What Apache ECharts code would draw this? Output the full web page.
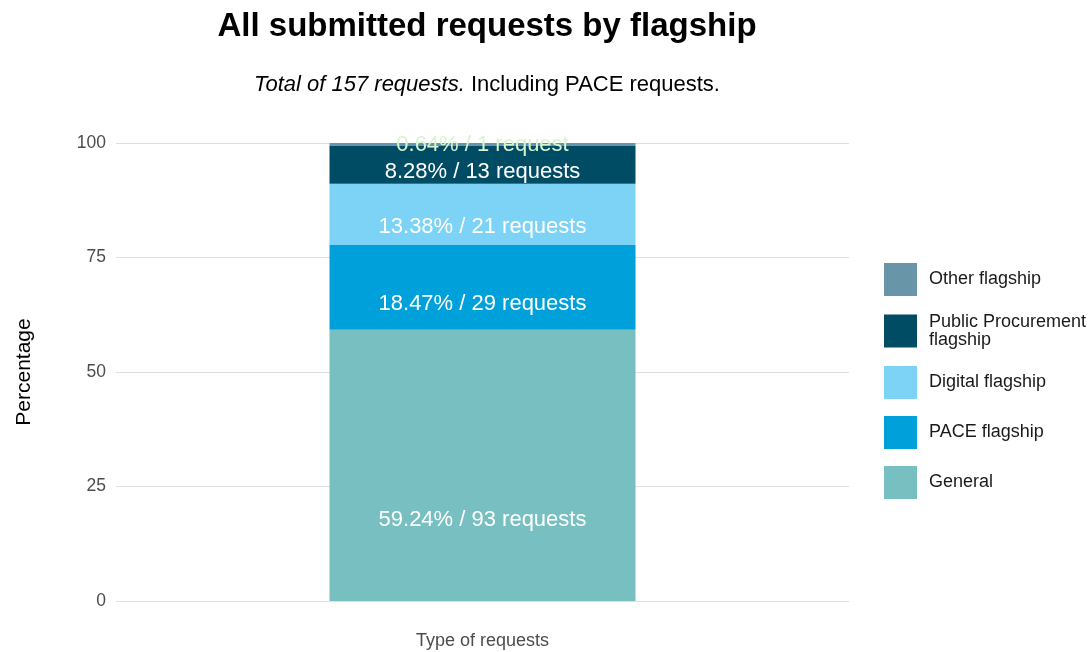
<!DOCTYPE html>
<html>
<head>
<meta charset="utf-8">
<script src="https://cdn.jsdelivr.net/npm/echarts@6/dist/echarts.min.js"></script>
<style>
html,body{margin:0;padding:0;background:#fff;}
#chart{width:1092px;height:652px;}
</style>
</head>
<body>
<div id="chart"></div>
<script>
var categories = [''];
var seriesNames = ['General', 'PACE flagship', 'Digital flagship', 'Public Procurement flagship', 'Other flagship'];
var percentages = [59.24, 18.47, 13.38, 8.28, 0.64];
var counts = [93, 29, 21, 13, 1];
var colors = ['#77bfc1', '#00a1db', '#7dd3f6', '#004c64', '#6895a8'];
var labelColors = ['#ffffff', '#ffffff', '#ffffff', '#ffffff', '#d8f5cf'];
var yTicks = [0, 25, 50, 75, 100];
var legendOrder = ['Other flagship', 'Public Procurement flagship', 'Digital flagship', 'PACE flagship', 'General'];

var FONT = '"Liberation Sans", Arial, sans-serif';

var series = seriesNames.map(function (name, i) {
  return {
    name: name,
    type: 'bar',
    stack: 'total',
    barWidth: 306,
    itemStyle: { color: colors[i] },
    label: {
      show: true,
      position: ['50%', '70%'],
      align: 'center',
      verticalAlign: 'middle',
      color: labelColors[i],
      fontFamily: FONT,
      fontSize: 22,
      formatter: function () {
        return percentages[i].toFixed(2) + '% / ' + counts[i] + (counts[i] === 1 ? ' request' : ' requests');
      }
    },
    data: [percentages[i]]
  };
});

var chart = echarts.init(document.getElementById('chart'), null, { renderer: 'canvas' });
chart.setOption({
  animation: false,
  backgroundColor: '#ffffff',
  title: {
    text: 'All submitted requests by flagship',
    subtext: '{i|Total of 157 requests.} Including PACE requests.',
    left: 482,
    textAlign: 'center',
    top: 5,
    itemGap: 31,
    textStyle: { fontFamily: FONT, fontSize: 33, fontWeight: 'bold', color: '#000000' },
    subtextStyle: {
      fontFamily: FONT, fontSize: 22, color: '#000000',
      rich: { i: { fontFamily: FONT, fontSize: 22, fontStyle: 'italic', color: '#000000' } }
    }
  },
  legend: {
    orient: 'vertical',
    left: 884,
    top: 263,
    padding: 0,
    itemWidth: 33,
    itemHeight: 33,
    itemGap: 17,
    icon: 'rect',
    data: legendOrder,
    formatter: function (n) { return n === 'Public Procurement flagship' ? 'Public Procurement\nflagship' : n; },
    textStyle: { fontFamily: FONT, fontSize: 18, color: '#1a1a1a', lineHeight: 18, padding: [0, 0, 0, 7] }
  },
  grid: { left: 116, right: 243, top: 143, bottom: 51, containLabel: false, outerBoundsMode: 'none' },
  xAxis: {
    type: 'category',
    data: categories,
    name: 'Type of requests',
    nameLocation: 'middle',
    nameGap: 31,
    nameTextStyle: { fontFamily: FONT, fontSize: 18, color: '#4d4d4d' },
    axisLine: { show: false },
    axisTick: { show: false },
    axisLabel: { show: false },
    splitLine: { show: false }
  },
  yAxis: {
    type: 'value',
    min: yTicks[0],
    max: yTicks[yTicks.length - 1],
    interval: yTicks[1] - yTicks[0],
    name: 'Percentage',
    nameLocation: 'middle',
    nameRotate: 90,
    nameGap: 81,
    nameTextStyle: { fontFamily: FONT, fontSize: 21, color: '#000000' },
    axisLine: { show: false },
    axisTick: { show: false },
    axisLabel: { fontFamily: FONT, fontSize: 17.5, color: '#4d4d4d', margin: 10, padding: [4, 0, 0, 0] },
    splitLine: { lineStyle: { color: '#dedede', width: 1 } }
  },
  series: series
});
</script>
</body>
</html>
